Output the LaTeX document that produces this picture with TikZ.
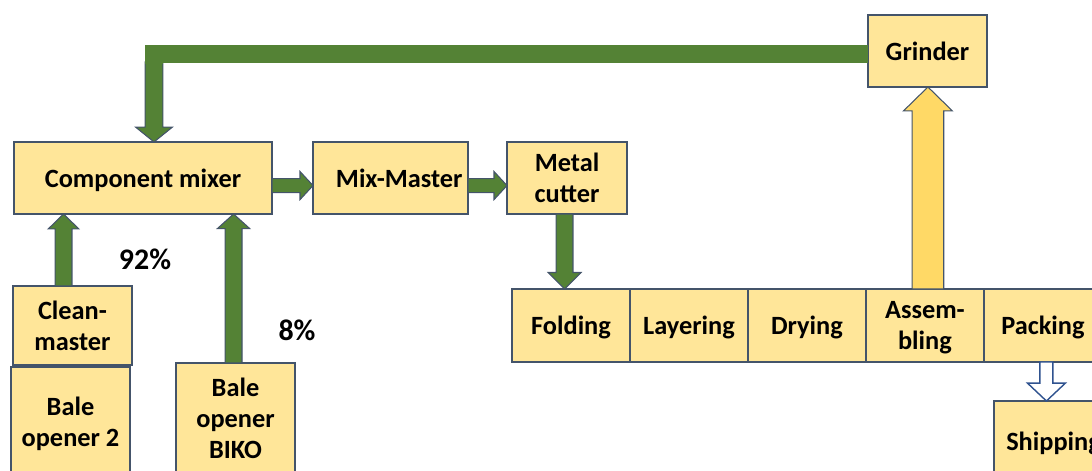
\documentclass[tikz,border=0pt]{standalone}
\usepackage{fontspec}
\setmainfont{Carlito}
\usetikzlibrary{positioning,calc}

\definecolor{boxfill}{RGB}{255,230,153}
\definecolor{boxline}{RGB}{68,84,106}
\definecolor{flowgreen}{RGB}{84,130,53}
\definecolor{scrapyellow}{RGB}{255,217,102}
\definecolor{shipline}{RGB}{47,82,143}

% block arrow: [style]{from}{to}{half shaft}{half head}{head length}
\newcommand{\blockarrow}[6][]{%
  \coordinate (ba-h) at ($(#3)!#6!(#2)$);
  \draw[#1] ($(#2)!#4!90:(#3)$) -- ($(ba-h)!#4!90:(#3)$) -- ($(ba-h)!#5!90:(#3)$) -- (#3)
    -- ($(ba-h)!#5!-90:(#3)$) -- ($(ba-h)!#4!-90:(#3)$) -- ($(#2)!#4!-90:(#3)$) -- cycle;}

\tikzset{
  box/.style={draw=boxline, fill=boxfill, line width=0.7pt, inner sep=0pt, outer sep=0pt,
    align=center, font=\bfseries\fontsize{15}{17.6}\selectfont, text depth=-5.5pt,
    minimum width=2.38cm, minimum height=1.44cm},
  stage/.style={box, minimum width=2.36cm, minimum height=1.46cm},
  feed/.style={draw=boxline, fill=flowgreen, line width=0.6pt, line join=miter},
  scrap/.style={draw=boxline, fill=scrapyellow, line width=0.6pt},
  ship/.style={draw=shipline, fill=white, line width=0.8pt},
  pct/.style={font=\bfseries\fontsize{17}{20}\selectfont}
}

\begin{document}
\begin{tikzpicture}[x=0.02cm, y=-0.02cm]
\useasboundingbox (0,0) rectangle (1092,470);
\clip (0,0) rectangle (1092,470);

% preparation
\node[box, minimum width=5.16cm] (mixer) at (143,178) {Component mixer};
\node[box, minimum width=3.1cm] (mixm) at (390.5,178) {\hspace*{0.35cm}Mix-Master};
\node[box, minimum width=2.4cm] (cutter) at (567,178) {Metal\\cutter};
\node[box] (grinder) at (927.5,51) {Grinder};
\node[box, minimum height=1.58cm, text depth=-1pt] (clean) at (72.5,325.5) {Clean-\\master};
\node[box, minimum height=2.2cm, text depth=0pt] (bale2) at (70.5,422) {Bale\\opener 2};
\node[box, minimum height=2.2cm, text depth=0pt] (biko) at (235.5,418) {Bale\\opener\\BIKO};

% production line
\node[stage] (fold) at (571,325.5) {Folding};
\node[stage, right=0pt of fold] (layer) {Layering};
\node[stage, right=0pt of layer] (dry) {Drying};
\node[stage, right=0pt of dry] (assem) {Assem-\\bling};
\node[stage, right=0pt of assem] (pack) {Packing};
\node[box, minimum height=1.6cm] (ship) at (1053.5,441) {Shipping};

\node[pct] (p92) at (145,259) {92\%};
\node[pct] (p8) at (297,330) {8\%};

% flows
\coordinate (a1s) at ([xshift=-5.1pt]clean.north);
\coordinate (a1e) at (a1s |- mixer.south);
\blockarrow[feed]{a1s}{a1e}{4.8pt}{8.7pt}{8.5pt}
\coordinate (a2s) at ([xshift=-1.1pt]biko.north);
\coordinate (a2e) at (a2s |- mixer.south);
\blockarrow[feed]{a2s}{a2e}{4.8pt}{9.2pt}{8.3pt}
\coordinate (a3s) at ([yshift=-4.3pt]mixer.east);
\coordinate (a3e) at (a3s -| mixm.west);
\blockarrow[feed]{a3s}{a3e}{4pt}{8pt}{7.4pt}
\coordinate (a4s) at ([yshift=-4.3pt]mixm.east);
\coordinate (a4e) at (a4s -| cutter.west);
\blockarrow[feed]{a4s}{a4e}{4pt}{8pt}{7.4pt}
\coordinate (a5s) at ([xshift=-1.4pt]cutter.south);
\coordinate (a5e) at (a5s |- fold.north);
\blockarrow[feed]{a5s}{a5e}{4.8pt}{9.4pt}{9.4pt}
\coordinate (a6s) at ([xshift=1.7pt]assem.north);
\coordinate (a6e) at (a6s |- grinder.south);
\blockarrow[scrap]{a6s}{a6e}{9pt}{13.9pt}{13.6pt}
\coordinate (a7s) at ([xshift=2pt]pack.south);
\coordinate (a7e) at (a7s |- ship.north);
\blockarrow[ship]{a7s}{a7e}{3.7pt}{10.8pt}{10.2pt}

% return from grinder
\coordinate (ret) at (154,62);
\coordinate (rete) at (ret |- mixer.north);
\blockarrow[feed]{ret}{rete}{5.1pt}{10.5pt}{8.5pt}
\draw[flowgreen, line width=10.2pt] ([yshift=-1.7pt]grinder.west) -| ([yshift=-1pt]ret);
\end{tikzpicture}
\end{document}
